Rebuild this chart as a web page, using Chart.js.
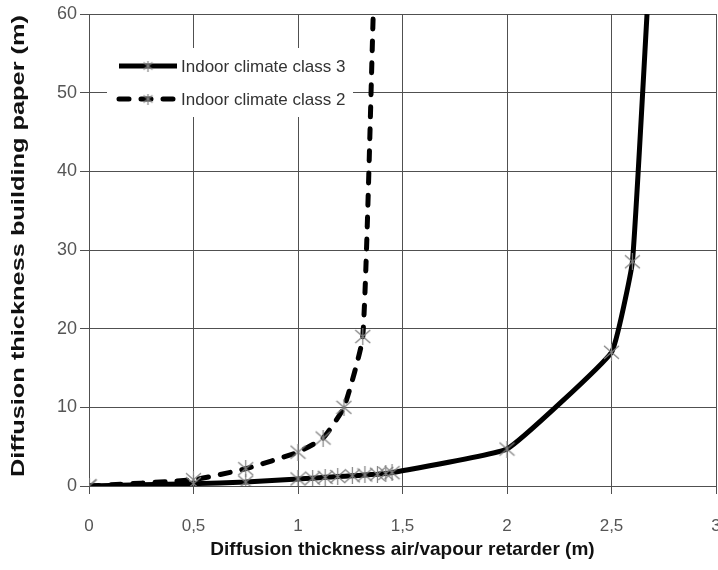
<!DOCTYPE html>
<html>
<head>
<meta charset="utf-8">
<script src="https://cdn.jsdelivr.net/npm/chart.js@4.4.1/dist/chart.umd.min.js"></script>
<style>
  html, body { margin: 0; padding: 0; background: #fff; overflow: hidden; }
  canvas { display: block; }
</style>
</head>
<body>
<canvas id="myChart" width="718" height="570"></canvas>
<script>
// values
const class3X = [0, 0.5, 0.75, 1, 1.07, 1.13, 1.19, 1.26, 1.32, 1.38, 1.42, 1.45, 2, 2.5, 2.6, 2.67];
const class3Y = [0, 0.3, 0.5, 0.9, 1.0, 1.1, 1.2, 1.3, 1.4, 1.5, 1.6, 1.7, 4.7, 17, 28.5, 60];
const class2X = [0, 0.5, 0.75, 1, 1.12, 1.22, 1.31, 1.36];
const class2Y = [0, 0.8, 2.2, 4.3, 6.1, 10, 19, 60];
const seriesNames = ['Indoor climate class 3', 'Indoor climate class 2'];
const xTicks = [0, 0.5, 1, 1.5, 2, 2.5, 3];
const yTicks = [0, 10, 20, 30, 40, 50, 60];
const xTitle = 'Diffusion thickness air/vapour retarder (m)';
const yTitle = 'Diffusion thickness building paper (m)';

const toPoints = (xs, ys) => xs.map((x, i) => ({ x: x, y: ys[i] }));

const markerColor = '#808080';
const gridColor = '#505050';
const fontFam = '"Liberation Sans", Arial, sans-serif';

// excel-like star marker: an X with a vertical bar
function makeMarker(size) {
  const cv = document.createElement('canvas');
  cv.width = size;
  cv.height = size;
  const g = cv.getContext('2d');
  g.strokeStyle = markerColor;
  g.lineWidth = 1.2;
  g.beginPath();
  g.moveTo(1, 2); g.lineTo(size - 1, size - 2);
  g.moveTo(size - 1, 2); g.lineTo(1, size - 2);
  g.moveTo(size / 2, 0); g.lineTo(size / 2, size);
  g.stroke();
  return cv;
}
const marker = makeMarker(17);
const smallMarker = makeMarker(11);

// no marker on the last point (line runs off the top)
function radiusFor(n) {
  return (ctx) => ctx.dataIndex === n - 1 ? 0 : 7;
}

// plot runs right up to the edge in the original (the "3" is cut off)
const plotRight = {
  id: 'plotRight',
  afterLayout(chart) {
    const xs = chart.scales.x;
    const r = chart.width - 2;
    xs.right = r;
    xs.width = r - xs.left;
    xs.configure();
    chart.chartArea.right = r;
    chart.chartArea.width = r - chart.chartArea.left;
  }
};

// legend drawn inside the plot, like the original
const innerLegend = {
  id: 'innerLegend',
  beforeDatasetsDraw(chart) {
    const c = chart.ctx;
    const a = chart.chartArea;
    const bx = a.left + 18, by = a.top + 34;
    c.save();
    c.fillStyle = '#fff';
    c.fillRect(bx, by, 246, 69);
    const rows = [
      { y: by + 18, dash: [] },
      { y: by + 51, dash: [10, 12] }
    ];
    rows.forEach((r, i) => {
      c.strokeStyle = '#000';
      c.lineWidth = 5;
      c.lineCap = i === 0 ? 'butt' : 'round';
      c.setLineDash(r.dash);
      c.beginPath();
      c.moveTo(bx + 12, r.y);
      c.lineTo(bx + 70, r.y);
      c.stroke();
      c.setLineDash([]);
      c.drawImage(smallMarker, bx + 41 - 5.5, r.y - 5.5);
      c.fillStyle = '#333';
      c.font = '17px ' + fontFam;
      c.textBaseline = 'middle';
      c.fillText(seriesNames[i], bx + 74, r.y + 1);
    });
    c.restore();
  }
};

// y title is drawn stretched along its length, as in the picture
const yTitlePlugin = {
  id: 'yTitlePlugin',
  afterDraw(chart) {
    const c = chart.ctx;
    c.save();
    c.font = 'bold 18px ' + fontFam;
    c.fillStyle = '#111';
    c.textAlign = 'center';
    c.textBaseline = 'middle';
    const w = c.measureText(yTitle).width;
    c.translate(19, 246);
    c.rotate(-Math.PI / 2);
    c.scale(462 / w, 1);
    c.fillText(yTitle, 0, 0);
    c.restore();
  }
};

const ctx = document.getElementById('myChart');
new Chart(ctx, {
  type: 'scatter',
  data: {
    datasets: [{
      label: seriesNames[0],
      data: toPoints(class3X, class3Y),
      showLine: true,
      borderColor: '#000',
      borderWidth: 5,
      tension: 0.1,
      pointStyle: marker,
      pointRadius: radiusFor(class3X.length)
    }, {
      label: seriesNames[1],
      data: toPoints(class2X, class2Y),
      showLine: true,
      borderColor: '#000',
      borderWidth: 5,
      borderDash: [10, 12],
      borderCapStyle: 'round',
      tension: 0.15,
      pointStyle: marker,
      pointRadius: radiusFor(class2X.length)
    }]
  },
  options: {
    responsive: false,
    animation: false,
    layout: { padding: { top: 14, right: 2, left: 0, bottom: 0 } },
    scales: {
      x: {
        type: 'linear',
        min: 0,
        max: 3,
        afterBuildTicks: (s) => { s.ticks = xTicks.map(v => ({ value: v })); },
        afterFit: (s) => { s.height = 84; },
        grid: { color: gridColor, lineWidth: 1, tickLength: 8, tickColor: gridColor },
        border: { color: gridColor, width: 1 },
        ticks: {
          color: '#555',
          font: { size: 17, family: fontFam },
          padding: 22,
          maxRotation: 0,
          callback: (v) => String(v).replace('.', ',')
        },
        title: {
          display: true,
          text: xTitle,
          color: '#111',
          font: { size: 19, weight: 'bold', family: fontFam },
          padding: { top: 0, bottom: 9 }
        }
      },
      y: {
        min: 0,
        max: 60,
        afterBuildTicks: (s) => { s.ticks = yTicks.map(v => ({ value: v })); },
        afterFit: (s) => { s.width = 89; },
        grid: { color: gridColor, lineWidth: 1, tickLength: 9, tickColor: gridColor },
        border: { color: gridColor, width: 1 },
        ticks: {
          color: '#555',
          font: { size: 18, family: fontFam },
          padding: 3
        },
        title: { display: false }
      }
    },
    plugins: {
      legend: { display: false },
      tooltip: { enabled: false }
    }
  },
  plugins: [plotRight, innerLegend, yTitlePlugin]
});
</script>
</body>
</html>
